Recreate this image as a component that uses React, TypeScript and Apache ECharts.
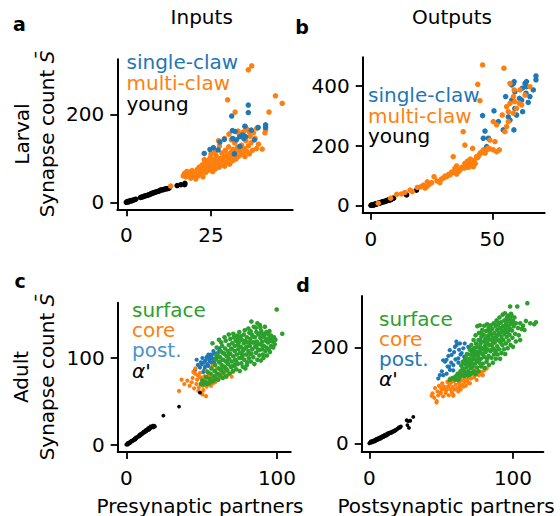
import React, { useEffect, useRef } from "react";
import * as echarts from "echarts";

const FONT = "DejaVu Sans";
const BLUE = "#1f77b4";
const ORANGE = "#ff7f0e";
const GREEN = "#2ca02c";
const BLACK = "#000000";

// ---------- Panel a: Larval inputs ----------
const aYoung = [[0,0],[0.2,1],[0.4,2],[0.7,1],[1,3],[1.3,4],[1.6,3],[2,5],[2.4,6],[2.8,7],[4.2,11],[4.6,12],[5,13],[5.4,14],[5.8,15],[6.2,16],[6.6,17],[7,18],[7.4,20],[7.8,21],[8.2,22],[8.6,23],[9,24],[9.4,25],[9.8,26],[10.2,28],[10.6,28],[11,29],[11.4,30],[11.8,31],[12.2,31],[12.6,32],[15,38],[16.1,40],[17.3,43],[17.2,40]];
const aMulti = [[13.1,37],[16.8,60],[17.2,66],[17.6,58],[17.9,70],[18.3,63],[18.6,68],[19.0,55],[19.4,72],[19.8,62],[20.2,67],[20.5,53],[20.9,74],[21.2,60],[21.5,80],[21.8,66],[22.1,71],[22.4,85],[22.6,58],[22.9,76],[23.2,90],[23.4,68],[23.7,81],[24.0,95],[24.2,73],[24.5,86],[24.8,102],[25.0,78],[25.3,91],[25.5,70],[25.8,84],[26.0,97],[26.3,76],[26.5,106],[26.8,88],[27.0,94],[27.2,140],[27.4,80],[27.7,100],[28.0,86],[28.2,112],[28.5,95],[28.8,104],[29.0,82],[29.2,118],[29.5,90],[29.7,108],[30.0,98],[30.2,126],[30.5,87],[30.8,113],[31.0,102],[31.3,94],[31.5,120],[31.8,108],[32.0,135],[32.3,98],[32.5,115],[32.8,125],[33.0,104],[33.3,155],[33.5,118],[33.8,108],[34.0,130],[34.3,112],[34.6,160],[34.8,122],[35.0,104],[35.3,140],[35.5,116],[35.8,165],[36.0,128],[36.3,110],[36.5,150],[36.8,135],[37.2,118],[37.5,158],[38.0,145],[38.4,122],[39.0,132],[40.1,121],[40.9,158],[41.1,165],[42.1,205],[29.9,233],[32.1,205],[36.0,301],[37.0,310],[44.0,242],[46.0,225],[31.0,142],[29.0,145],[27.5,128],[26.2,115],[30.3,155],[34.2,150],[25.0,110],[23.0,97],[36.3,160],[33.0,162],[38.5,168],[35.2,170]];
const aSingle = [[23.0,111],[24.7,120],[25.7,124],[27.1,119],[27.6,137],[28.9,143],[31.3,163],[31.1,196],[31.4,145],[32.1,161],[32.5,142],[33.5,149],[34.3,153],[35.0,173],[35.2,149],[36.0,221],[36.0,204],[36.9,164],[37.8,142],[38.9,170],[41.1,176],[41.1,170],[31.9,110],[33.5,127],[34.7,145]];

// ---------- Panel b: Larval outputs ----------
const bYoung = [[0,0],[0.3,1],[0.5,0],[0.8,2],[1,1],[1.2,3],[1.5,2],[1.8,4],[2,5],[2.3,4],[2.6,6],[3,7],[3.3,8],[3.6,7],[4,9],[4.3,10],[4.6,11],[5,12],[5.3,13],[5.6,12],[6,14],[6.3,15],[6.6,16],[7,17],[7.3,18],[7.6,17],[8,19],[8.3,20],[8.6,22],[9,23],[9.3,24],[14.7,35],[18.8,51]];
const bMulti = [[3.0,7],[8.1,24],[10.6,37],[12.6,38],[14.0,43],[16.1,51],[17.0,46],[19.1,60],[20.5,62],[21.6,68],[22.3,58],[23.0,63],[23.2,79],[24.0,70],[25.0,76],[26.0,96],[27.2,82],[28.4,76],[29.0,88],[29.8,91],[30.5,98],[31.2,96],[32.0,104],[32.6,102],[33.3,112],[33.9,110],[33.9,163],[34.6,124],[35.3,105],[35.3,132],[36.0,113],[36.8,120],[37.5,128],[38.0,247],[38.7,141],[38.7,202],[39.0,132],[39.4,135],[39.8,148],[40.1,143],[40.3,128],[40.5,138],[40.8,152],[41.0,132],[41.2,145],[41.5,135],[41.9,191],[42.2,130],[42.5,150],[43.0,140],[43.5,163],[44.0,406],[44.6,169],[44.9,351],[45.5,178],[46.0,471],[46.3,186],[47.0,175],[47.7,186],[48.3,192],[49.0,189],[49.0,219],[50.4,186],[50.4,281],[51.1,214],[51.8,180],[51.8,270],[52.9,186],[54.1,303],[54.8,460],[55.2,247],[55.9,264],[55.9,331],[56.6,281],[56.6,314],[57.3,342],[57.3,409],[58.7,309],[58.7,365],[59.0,387],[59.3,348],[60.0,325],[61.2,342],[61.4,387],[62.1,337],[63.5,370],[65.5,398],[45.0,175],[44.0,160],[40.0,140],[39.5,128],[41.0,155],[38.5,125],[36.5,117]];
const bSingle = [[46.0,301],[47.0,249],[46.3,225],[47.7,197],[48.4,225],[50.7,317],[52.5,281],[54.5,253],[55.5,365],[56.6,297],[57.3,286],[58.0,404],[58.7,409],[59.0,415],[59.3,325],[60.0,303],[61.2,359],[62.1,353],[62.5,314],[63.5,409],[64.1,415],[63.9,376],[65.5,365],[66.9,387],[68.0,434],[68.0,421],[64.1,398],[58.9,253],[58.0,353],[59.3,381],[62.4,393],[64.8,345]];

// ---------- Panel c: Adult inputs ----------
const cAlpha = [[0,0],[0.5,1],[1,0],[1,2],[1.5,1],[2,2],[2,3],[2.5,2],[3,3],[3,4],[3.5,4],[4,4],[4,5],[4.5,5],[5,5],[5,6],[5.5,7],[6,6],[6,8],[6.5,7],[7,8],[7,9],[7.5,9],[8,9],[8,10],[8.5,11],[9,10],[9,12],[9.5,11],[10,12],[10,13],[10.5,12],[11,13],[11,14],[11.5,15],[12,14],[12,15],[12.5,16],[13,15],[13,17],[13.5,16],[14,17],[14,18],[14.5,19],[15,17],[15,19],[15.5,18],[16,19],[16,21],[17,20],[17.5,22],[18,20],[18.5,22],[19,21],[24.6,33.5],[35,44],[48.9,60]];
const cPost = [[45.6,86],[46.7,98],[47.5,92],[48.9,89],[49.5,95],[50,93],[50.5,100],[51.1,84],[51.5,95],[52.2,90],[52.5,97],[53.3,101],[53.8,93],[54.4,91],[55,98],[55.5,96],[55.6,101],[56.2,104],[56.6,103],[57,94],[57.5,99],[58.2,95],[58.8,105],[59.3,100],[60,100],[60.5,104],[61.1,107],[61.7,111],[62.2,108],[57.8,108],[54.5,104],[52,87]];
const cCore = [[35,62],[36.7,75],[38.5,70],[40.5,74],[42,68],[43.4,72],[44,77],[45,65],[45.6,82],[46.5,70],[47,75],[47.5,80],[48.2,66],[48.9,83],[48.9,78],[49.6,60],[50,72],[50.3,76],[50.8,68],[51.1,63],[51.5,74],[51.8,79],[52.2,71],[52.6,77],[52.9,56],[53.3,67],[53.6,73],[54,79],[54.3,70],[54.7,75],[55,82],[55.4,72],[55.8,77],[56.2,68],[56.6,74],[57,80],[57.5,71],[58,76],[58.5,85],[59,72],[59.5,79],[60,88],[60.5,75],[61,82],[62,78],[63,84],[64.4,80],[65.5,86],[66.5,78],[67.7,82],[69.9,78.5],[71,84],[73.7,119.6],[50.5,58],[47.8,62],[44.5,84],[46,88],[57.2,91],[53.2,85]];
const cSurface = [[49.5,70],[50.5,74],[51,69.5],[52.5,72],[53,78],[53.5,70],[54,84],[55,71],[55.5,76],[56,82],[56.5,88],[57,73],[57.2,117],[58,74],[58.3,79],[58.7,85],[59,92],[59.3,98],[59.6,76],[60,104],[60,112],[60.3,82],[61,75],[61.3,88],[61.6,95],[62,80],[62.3,101],[62.6,108],[63,86],[63,118],[63.3,92],[63.6,114],[61.5,121],[64,77],[64.3,98],[64.6,83],[65,105],[65.3,90],[65.6,111],[66,96],[66,120],[66.3,79],[66.6,102],[65.2,124],[67,86],[67.3,108],[67.6,93],[68,115],[68.3,99],[68.6,82],[69,105],[69,122],[69.3,90],[69.6,111],[68,127],[70,96],[70.3,117],[70.6,85],[71,102],[71.3,124],[71.6,91],[72,108],[72,114],[72.3,98],[72.6,120],[71,128],[73,87],[73.3,104],[73.6,126],[74,93],[74.3,110],[74.6,118],[75,100],[75,130],[75.3,85],[75.6,106],[74,122],[76,113],[76.3,94],[76.6,121],[77,102],[77.3,90],[77.6,109],[78,127],[78,117],[78.3,98],[78.6,132],[77,105],[79,88],[79.3,112],[79.6,104],[80,124],[80.3,95],[80.6,118],[81,108],[81,134],[81.3,100],[81.6,129],[80,92],[82,114],[82.3,122],[82.6,96],[83,142],[83,105],[83.3,127],[83.6,110],[84,118],[84.3,101],[84.6,136],[82.5,131],[85,93],[85.3,124],[85.6,113],[86,106],[86.3,130],[86.6,119],[87,140],[87,98],[87.3,110],[87.6,127],[86,135],[88,116],[88.3,103],[88.6,138],[89,123],[89.3,97],[89.6,131],[90,110],[90,119],[90.3,127],[90.6,104],[89,135],[91,100],[91.3,114],[91.6,124],[92,136],[92.3,108],[92.6,120],[93,130],[93,112],[93.3,103],[94,118],[94.3,127],[94.6,110],[95,131],[95.3,107],[95.6,122],[96,114],[96,126],[97,119],[97.5,112],[98,124],[98.5,116],[99,121],[99.8,156],[103.5,128],[62,96],[64,106],[66,88],[68,104],[70,110],[72,92],[74,115],[76,100],[78,110],[80,113],[82,105],[84,125],[86,114],[88,128],[90,115],[92,128],[94,122],[96,120],[70,90],[76,125],[82,118],[88,109],[79,120],[85,118],[73,96],[67,97],[64,90]];

// ---------- Panel d: Adult outputs ----------
const dAlpha = [[0,0],[0.5,2],[1,1],[1,4],[1.5,3],[2,2],[2,5],[2.5,4],[3,3],[3,6],[3.5,5],[4,7],[4,4],[4.5,8],[5,6],[5,9],[5.5,8],[6,10],[6,7],[6.5,11],[7,9],[7,12],[7.5,11],[8,13],[8,10],[8.5,14],[9,12],[9,15],[9.5,14],[10,16],[10,13],[10.5,17],[11,15],[11,18],[11.5,17],[12,19],[12,16],[12.5,20],[13,18],[13,21],[13.5,20],[14,22],[14.5,21],[15,23],[15.5,22],[16,25],[16.5,24],[17,26],[17.5,25],[18,28],[18.5,27],[19,29],[19.5,30],[20,31],[20.5,33],[21,32],[21.5,34],[22,35],[26,48],[27,46],[28.5,47],[30.6,55],[27.6,32],[26.5,38]];
const dPost = [[48,135],[49.1,142],[50.5,150],[51.5,142],[51.4,173],[52.7,170],[53.8,174],[53.8,145],[54.5,160],[55,182],[56,194],[56.1,153],[57.3,184],[57,168],[58.4,152],[58.5,163],[59,190],[59.6,201],[60,175],[60.6,212],[60.8,205],[61.9,177],[62.5,195],[63.1,208],[63.5,185],[64.3,188],[65.4,198],[66,180],[66.4,208],[66.6,174],[67.7,184],[68.9,201],[69.9,198],[71.2,194],[72.4,181],[74,200],[77,215],[81.7,219],[55.5,160],[62,168]];
const dCore = [[43.4,99],[44,104],[45.2,95],[45.7,115],[46.8,85],[46.9,88],[47.5,108],[48,100],[48.5,120],[49.2,118],[49.8,105],[50.3,112],[50.8,125],[51.4,98],[52,118],[52.6,112],[53.2,105],[53.8,111],[54.3,128],[54.8,118],[55.3,100],[55.8,122],[56.1,135],[56.5,112],[57,127],[57.5,106],[58,117],[58.4,99],[58.5,101],[59,130],[59.5,112],[60,122],[60.8,132],[61.3,115],[61.9,108],[62.4,126],[63,119],[63.1,140],[63.6,112],[64.2,131],[64.8,122],[65.4,118],[66,136],[66.6,128],[67.2,120],[67.7,146],[68.3,133],[69,126],[69.6,140],[70,125],[70.8,135],[71.5,144],[72.4,153],[73,138],[74,147],[74.7,132],[75.5,150],[76.3,142],[77,144],[78.2,149],[79,142],[80,152],[81.7,156],[64,144],[59.2,138]];
const dSurface = [[56,132],[58,136],[59.5,133],[60.5,140],[62,132],[61.5,145],[63,138],[63.5,150],[64,162],[64.5,143],[65,156],[65,170],[66,140],[66.3,150],[66.6,165],[67,178],[67.3,145],[67.6,158],[68,186],[68,170],[68.4,141],[69,150],[69.3,163],[69.6,176],[70,195],[70,143],[70.3,185],[70.6,157],[71,168],[71,205],[71.4,147],[71.7,190],[72,160],[72.3,175],[72.6,215],[73,150],[73,198],[73.3,183],[73.6,166],[74,225],[74,144],[74.3,208],[74.6,190],[74.8,172],[75,158],[75.2,244],[75.3,200],[75.6,182],[76,215],[76,150],[76.3,230],[76.6,168],[77,193],[77,246],[77.3,207],[77.6,176],[77.8,160],[78,222],[78.3,187],[78.6,236],[79,198],[79,166],[79.3,212],[79.6,226],[80,180],[80,245],[80.3,157],[80.6,202],[80.8,218],[81,190],[81.3,234],[81.6,170],[82,210],[82,248],[82.3,196],[82.6,224],[83,182],[83,240],[83.3,163],[83.6,205],[83.8,230],[84,216],[84.3,192],[84.6,246],[85,178],[85,226],[85.3,205],[85.6,238],[86,168],[86,198],[86.3,220],[86.6,250],[86.8,185],[87,230],[87.3,210],[87.6,194],[88,244],[88,176],[88.3,222],[88.6,256],[89,202],[89,236],[89.3,185],[89.6,215],[89.8,248],[90,228],[90.3,196],[90.6,262],[91,176],[91,240],[91.3,210],[91.6,252],[92,222],[92,188],[92.3,234],[92.6,205],[92.8,268],[93,244],[93.3,215],[93.6,196],[94,256],[94,228],[94.4,271],[94.6,186],[95,238],[95,208],[95.3,250],[95.6,222],[95.8,262],[96,232],[96.3,198],[96.6,266],[97,245],[97,214],[97.3,256],[97.6,226],[98,285],[98,238],[98.3,205],[98.6,270],[98.8,250],[99,267],[99.3,235],[99.6,220],[100,255],[100,201],[100.5,244],[101,262],[101.5,228],[102,250],[102,212],[103,285],[103.5,240],[104,225],[105,250],[105,215],[106,238],[107,245],[108,236],[109,255],[110,292],[112,250],[114.8,248],[116,252],[70,170],[73,190],[75,175],[77,200],[79,185],[81,205],[83,218],[85,195],[87,215],[89,225],[91,230],[93,235],[95,245],[97,235],[99,250],[78,230],[84,235],[90,250],[96,255],[72,182],[76,188],[80,195],[86,210],[92,216],[98,260],[82,176],[88,190]];

// tick values
const aXTicks = [0, 25];
const aYTicks = [0, 200];
const bXTicks = [0, 50];
const bYTicks = [0, 200, 400];
const cXTicks = [0, 100];
const cYTicks = [0, 100];
const dXTicks = [0, 100];
const dYTicks = [0, 200];

function makeAxis(gridIndex: number, min: number, max: number, ticks: number[], isX: boolean) {
  return {
    type: "value",
    gridIndex,
    min,
    max,
    splitLine: { show: false },
    axisLine: { show: true, onZero: false, lineStyle: { color: "#000", width: 2 } },
    axisTick: { show: true, length: 7, customValues: ticks, lineStyle: { color: "#000", width: 1.8 } },
    axisLabel: {
      customValues: ticks,
      margin: isX ? 16 : 13,
      fontSize: 20,
      color: "#000",
      fontFamily: FONT,
    },
  };
}

function scatter(data: number[][], idx: number, color: string, size: number) {
  return {
    type: "scatter",
    xAxisIndex: idx,
    yAxisIndex: idx,
    data,
    symbolSize: size,
    itemStyle: { color, opacity: 1 },
    silent: true,
  };
}

function txt(text: string, x: number, y: number, fill: string, opts: any = {}) {
  return {
    type: "text",
    x,
    y,
    rotation: opts.rotation || 0,
    silent: true,
    style: {
      text,
      fill,
      fontSize: opts.fontSize || 20,
      fontFamily: FONT,
      fontWeight: opts.fontWeight || "normal",
      fontStyle: opts.fontStyle || "normal",
      align: opts.align || "left",
      verticalAlign: "middle",
      textAlign: opts.align || "left",
      textVerticalAlign: "middle",
      rich: opts.rich,
    },
  };
}

const italicRich = { i: { fontStyle: "italic", fontSize: 20, fontFamily: FONT, fill: "#000" } };

const option = {
  animation: false,
  backgroundColor: "#ffffff",
  grid: [
    { left: 117.3, top: 59.3, width: 175.4, height: 150 },
    { left: 362.7, top: 57.3, width: 182, height: 155.4 },
    { left: 117.7, top: 302.7, width: 173, height: 149.3 },
    { left: 361.7, top: 296, width: 181.6, height: 155.7 },
  ],
  xAxis: [
    makeAxis(0, -2.65, 49.1, aXTicks, true),
    makeAxis(1, -3.4, 71.6, bXTicks, true),
    makeAxis(2, -5.7, 109.1, cXTicks, true),
    makeAxis(3, -5.3, 121.1, dXTicks, true),
  ],
  yAxis: [
    makeAxis(0, -15.9, 325, aYTicks, false),
    makeAxis(1, -24.8, 496.6, bYTicks, false),
    makeAxis(2, -8.4, 163.8, cYTicks, false),
    makeAxis(3, -17.5, 306.9, dYTicks, false),
  ],
  series: [
    scatter(aYoung, 0, BLACK, 5.5),
    scatter(aMulti, 0, ORANGE, 5.5),
    scatter(aSingle, 0, BLUE, 5.5),
    scatter(bYoung, 1, BLACK, 5.5),
    scatter(bSingle, 1, BLUE, 5.5),
    scatter(bMulti, 1, ORANGE, 5.5),
    scatter(cPost, 2, BLUE, 4.2),
    scatter(cCore, 2, ORANGE, 4.2),
    scatter(cSurface, 2, GREEN, 4.6),
    scatter(cAlpha, 2, BLACK, 3.8),
    scatter(dPost, 3, BLUE, 4.2),
    scatter(dCore, 3, ORANGE, 4.2),
    scatter(dSurface, 3, GREEN, 4.6),
    scatter(dAlpha, 3, BLACK, 3.8),
  ],
  graphic: [
    txt("a", 19.5, 24, "#000", { fontWeight: "bold", fontSize: 19, align: "center" }),
    txt("b", 302, 26.5, "#000", { fontWeight: "bold", fontSize: 19, align: "center" }),
    txt("c", 20, 280.5, "#000", { fontWeight: "bold", fontSize: 19, align: "center" }),
    txt("d", 303, 284.5, "#000", { fontWeight: "bold", fontSize: 19, align: "center" }),
    txt("Inputs", 201.7, 17, "#000", { align: "center" }),
    txt("Outputs", 452, 17, "#000", { align: "center" }),
    txt("Larval", 21.7, 134, "#000", { align: "center", rotation: Math.PI / 2 }),
    txt("Synapse count {i|S\u0304}", 46.7, 134, "#000", { align: "center", rotation: Math.PI / 2, rich: italicRich }),
    txt("Adult", 21, 377, "#000", { align: "center", rotation: Math.PI / 2 }),
    txt("Synapse count {i|S\u0304}", 46.7, 377, "#000", { align: "center", rotation: Math.PI / 2, rich: italicRich }),
    txt("Presynaptic partners", 200, 505.5, "#000", { align: "center" }),
    txt("Postsynaptic partners", 446, 505.5, "#000", { align: "center" }),
    txt("single-claw", 126.5, 61.5, BLUE),
    txt("multi-claw", 126.5, 82.5, ORANGE),
    txt("young", 126.5, 103.5, "#000"),
    txt("single-claw", 368, 94.5, BLUE),
    txt("multi-claw", 368, 115.5, ORANGE),
    txt("young", 368, 136, "#000"),
    txt("surface", 132, 310, GREEN),
    txt("core", 132, 330, ORANGE),
    txt("post.", 132, 350, "#4b93cd"),
    txt("\u03b1'", 132, 370.5, "#000", { fontStyle: "italic" }),
    txt("surface", 379, 318.5, GREEN),
    txt("core", 379, 338.5, ORANGE),
    txt("post.", 379, 358.5, BLUE),
    txt("\u03b1'", 379, 378.5, "#000", { fontStyle: "italic" }),
  ],
};

export default function App() {
  const ref = useRef<HTMLDivElement>(null);
  useEffect(() => {
    if (!ref.current) return;
    const chart = echarts.init(ref.current, null, { renderer: "svg" });
    chart.setOption(option as any);
    return () => chart.dispose();
  }, []);
  return (
    <div
      ref={ref}
      style={{ position: "absolute", left: 0, top: 0, width: 560, height: 516, background: "#fff" }}
    />
  );
}
